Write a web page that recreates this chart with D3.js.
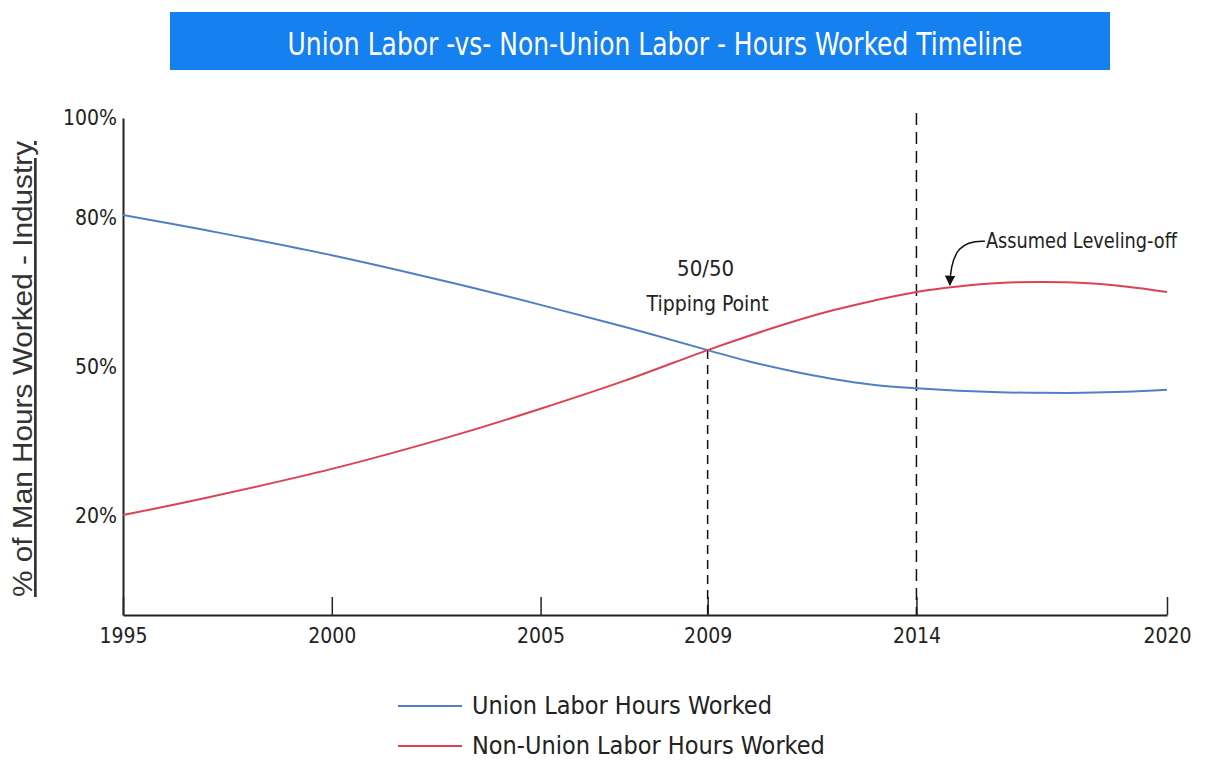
<!DOCTYPE html>
<html>
<head>
<meta charset="utf-8">
<script src="https://cdnjs.cloudflare.com/ajax/libs/d3/7.8.5/d3.min.js"></script>
<style>
  body { margin: 0; background: #fff; }
  text { font-family: "DejaVu Sans Condensed", "Liberation Sans Narrow", sans-serif; fill: #222; }
</style>
</head>
<body>
<script>
// data (percent of man hours)
const years = [1995, 1997, 2000, 2003, 2005, 2007, 2009, 2010, 2011, 2012, 2013, 2014, 2015, 2016, 2017, 2018, 2019, 2020]
const unionHours = [80.5, 77.4, 72.4, 66.6, 62.4, 58.0, 53.3, 51.0, 49.1, 47.5, 46.3, 45.6, 45.1, 44.8, 44.7, 44.7, 44.9, 45.3]
const nonUnionHours = [20.1, 23.6, 29.4, 36.3, 41.5, 47.1, 53.3, 56.2, 58.9, 61.3, 63.3, 65.0, 66.1, 66.8, 67.0, 66.8, 66.1, 65.0]
const xTicks = [1995, 2000, 2005, 2009, 2014, 2020]
const yTicks = [20, 50, 80, 100]
const seriesNames = ["Union Labor Hours Worked", "Non-Union Labor Hours Worked"]
const seriesColors = ["#4f80c6", "#dc4252"]
const titleText = "Union Labor -vs- Non-Union Labor - Hours Worked Timeline"

const width = 1207, height = 761
const margin = {top: 118, right: 40, bottom: 146, left: 123}

const svg = d3.select('body').append('svg')
    .attr('width', width)
    .attr('height', height)

// scales
const xScale = d3.scaleLinear()
    .domain([1995, 2020])
    .range([margin.left, width - margin.right])

const yScale = d3.scaleLinear()
    .domain([0, 100])
    .range([height - margin.bottom, margin.top])

// title bar
svg.append('rect')
    .attr('x', 170).attr('y', 12)
    .attr('width', 940).attr('height', 58)
    .attr('fill', '#1580f0')

svg.append('text')
    .attr('x', 655).attr('y', 55)
    .attr('text-anchor', 'middle')
    .attr('textLength', 735)
    .attr('lengthAdjust', 'spacingAndGlyphs')
    .style('font-size', '32px')
    .style('fill', '#fff')
    .text(titleText)

// x axis, ticks pointing up
const xAxis = svg.append('g')
    .attr('transform', 'translate(0,' + yScale(0) + ')')
    .call(d3.axisBottom(xScale).tickValues(xTicks).tickFormat(d3.format('d'))
        .tickSizeInner(-18).tickSizeOuter(0).tickPadding(13))
xAxis.select('.domain').attr('stroke', '#222').attr('stroke-width', 2)
xAxis.selectAll('.tick line').attr('stroke', '#222').attr('stroke-width', 1.5)
xAxis.selectAll('.tick text').style('font-size', '21px').style('font-family', null).attr('fill', '#222')

// y axis
const yAxis = svg.append('g')
    .attr('transform', 'translate(' + margin.left + ',0)')
    .call(d3.axisLeft(yScale).tickValues(yTicks).tickFormat(d => d + '%')
        .tickSize(0).tickPadding(6))
yAxis.select('.domain').attr('stroke', '#222').attr('stroke-width', 2)
yAxis.selectAll('.tick text').style('font-size', '21px').style('font-family', null).attr('fill', '#222')

// y axis title, underlined
svg.append('text')
    .attr('transform', 'translate(32,369) rotate(-90)')
    .attr('text-anchor', 'middle')
    .attr('textLength', 456)
    .attr('lengthAdjust', 'spacingAndGlyphs')
    .style('font-family', 'Liberation Sans, sans-serif')
    .style('font-size', '27px')
    .style('text-decoration', 'underline')
    .style('fill', '#333')
    .text('% of Man Hours Worked - Industry')

// dashed reference lines
svg.append('line')
    .attr('x1', xScale(2009)).attr('x2', xScale(2009))
    .attr('y1', yScale(unionHours[years.indexOf(2009)])).attr('y2', yScale(0))
    .attr('stroke', '#111').attr('stroke-width', 1.5)
    .attr('stroke-dasharray', '9,6')

svg.append('line')
    .attr('x1', xScale(2014)).attr('x2', xScale(2014))
    .attr('y1', yScale(101)).attr('y2', yScale(0))
    .attr('stroke', '#111').attr('stroke-width', 1.5)
    .attr('stroke-dasharray', '12,7')

// lines
const line = d3.line()
    .x(d => xScale(d[0]))
    .y(d => yScale(d[1]))
    .curve(d3.curveCatmullRom.alpha(0.5))

const series = [unionHours, nonUnionHours]
series.forEach((vals, i) => {
    svg.append('path')
        .datum(years.map((y, j) => [y, vals[j]]))
        .attr('fill', 'none')
        .attr('stroke', seriesColors[i])
        .attr('stroke-width', 2)
        .attr('d', line)
})

// annotations
svg.append('text')
    .attr('x', xScale(2009) - 2).attr('y', yScale(68.2))
    .attr('text-anchor', 'middle')
    .style('font-size', '22px')
    .text('50/50')

svg.append('text')
    .attr('x', xScale(2009)).attr('y', yScale(61.2))
    .attr('text-anchor', 'middle')
    .style('font-size', '21px')
    .text('Tipping Point')

svg.append('defs').append('marker')
    .attr('id', 'arrow')
    .attr('viewBox', '0 0 10 10')
    .attr('refX', 9).attr('refY', 5)
    .attr('markerWidth', 7).attr('markerHeight', 7)
    .attr('orient', 'auto-start-reverse')
    .append('path')
    .attr('d', 'M0,0 L10,5 L0,10 z')
    .attr('fill', '#111')

const ax0 = xScale(2015.64), ay0 = yScale(75.2)
const ax1 = xScale(2014.8), ay1 = yScale(66.4)
svg.append('path')
    .attr('d', 'M' + ax0 + ',' + ay0 + ' C' + (ax0 - 22) + ',' + (ay0 - 1) + ' ' + (ax1 + 1) + ',' + (ay0 + 8) + ' ' + ax1 + ',' + ay1)
    .attr('fill', 'none')
    .attr('stroke', '#111')
    .attr('stroke-width', 1.5)
    .attr('marker-end', 'url(#arrow)')

svg.append('text')
    .attr('x', ax0 + 1).attr('y', ay0 + 7)
    .attr('textLength', 191)
    .attr('lengthAdjust', 'spacingAndGlyphs')
    .style('font-size', '21px')
    .text('Assumed Leveling-off')

// legend
const legend = svg.append('g')
seriesNames.forEach((name, i) => {
    const ly = 706 + i * 40
    legend.append('line')
        .attr('x1', 398).attr('x2', 462)
        .attr('y1', ly).attr('y2', ly)
        .attr('stroke', seriesColors[i])
        .attr('stroke-width', 2)
    legend.append('text')
        .attr('x', 472).attr('y', ly + 8)
        .style('font-size', '25px')
        .text(name)
})
</script>
</body>
</html>
